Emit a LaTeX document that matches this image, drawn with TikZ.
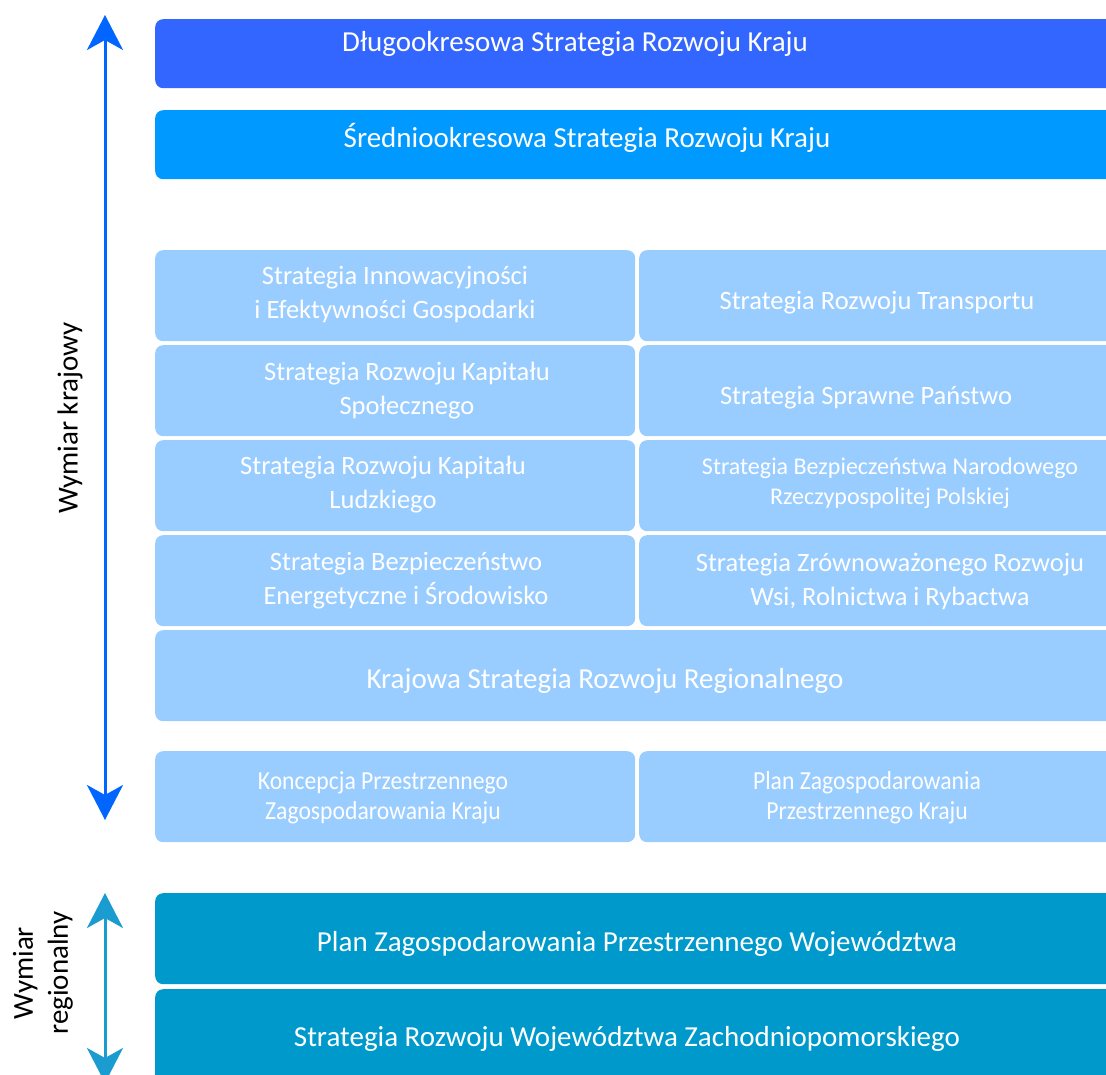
\documentclass[tikz,border=0pt]{standalone}
\usepackage{fontspec}
\setmainfont{Carlito}
\newfontfamily\narrowfont[FakeStretch=0.91]{Carlito}
\usepackage{xcolor}
\usetikzlibrary{arrows.meta, positioning}
\definecolor{darkblue}{HTML}{3366FF}
\definecolor{midblue}{HTML}{0099FF}
\definecolor{lightblue}{HTML}{99CCFF}
\definecolor{regblue}{HTML}{0099CC}
\definecolor{natarrowc}{HTML}{0066FF}
\definecolor{regarrowc}{HTML}{1A9CD0}
\tikzset{
    box/.style={rectangle, rounded corners=8pt, anchor=north west, inner sep=0pt, minimum height=91pt},
    darkbox/.style={box, fill=darkblue, minimum height=69pt, minimum width=1000pt},
    midbox/.style={box, fill=midblue, minimum height=69pt, minimum width=1000pt},
    lightbox/.style={box, fill=lightblue},
    regbox/.style={box, fill=regblue, minimum width=1000pt},
    boxtext/.style={text=white, align=center, font=\fontsize{29}{34}\selectfont},
    gridtext/.style={boxtext, font=\fontsize{26.5}{34}\selectfont},
    smalltext/.style={boxtext, font=\fontsize{24}{30}\selectfont},
    narrowtext/.style={boxtext, font=\narrowfont\fontsize{26}{30}\selectfont},
    sidelabel/.style={rotate=90, align=center, font=\fontsize{29}{35}\selectfont},
    bigarrow/.style={{Stealth[length=35pt, width=36pt, inset=10pt]}-{Stealth[length=35pt, width=36pt, inset=10pt]}, line width=3pt}
}

\begin{document}
\begin{tikzpicture}[x=1pt, y=-1pt]
    \useasboundingbox (0,0) rectangle (1106,1075);
    \clip (0,0) rectangle (1106,1075);

    % Strategie rozwoju kraju
    \node[darkbox] (dlugo) at (155,19) {};
    \node[midbox] (srednio) at (155,110) {};
    \node[boxtext] at (575,44) {Długookresowa Strategia Rozwoju Kraju};
    \node[boxtext] at (587,138) {Średniookresowa Strategia Rozwoju Kraju};

    % Strategie zintegrowane
    \node[lightbox, minimum width=480pt] (innow) at (155,250) {};
    \node[lightbox, minimum width=502pt] (transp) at (639,250) {};
    \node[lightbox, minimum width=480pt] (kapspol) at (155,345) {};
    \node[lightbox, minimum width=502pt] (sprawne) at (639,345) {};
    \node[lightbox, minimum width=480pt] (kapludz) at (155,440) {};
    \node[lightbox, minimum width=502pt] (bezpnar) at (639,440) {};
    \node[lightbox, minimum width=480pt] (energ) at (155,535) {};
    \node[lightbox, minimum width=502pt] (wsi) at (639,535) {};
    \node[lightbox, minimum width=1000pt] (regional) at (155,630) {};

    \node[gridtext] at (395,295) {Strategia Innowacyjności\\i Efektywności Gospodarki};
    \node[gridtext] at (877,303) {Strategia Rozwoju Transportu};
    \node[gridtext] at (407,391) {Strategia Rozwoju Kapitału\\Społecznego};
    \node[gridtext] at (866,398) {Strategia Sprawne Państwo};
    \node[gridtext] at (383,485) {Strategia Rozwoju Kapitału\\Ludzkiego};
    \node[smalltext] at (890,483) {Strategia Bezpieczeństwa Narodowego\\Rzeczypospolitej Polskiej};
    \node[gridtext] at (406,581) {Strategia Bezpieczeństwo\\Energetyczne i Środowisko};
    \node[gridtext] at (890,581) {Strategia Zrównoważonego Rozwoju\\Wsi, Rolnictwa i Rybactwa};
    \node[boxtext] at (605,681) {Krajowa Strategia Rozwoju Regionalnego};

    % Zagospodarowanie przestrzenne
    \node[lightbox, minimum width=480pt] (koncepcja) at (155,751) {};
    \node[lightbox, minimum width=502pt] (planzpk) at (639,751) {};
    \node[narrowtext] at (383,798) {Koncepcja Przestrzennego\\Zagospodarowania Kraju};
    \node[narrowtext] at (867,798) {Plan Zagospodarowania\\Przestrzennego Kraju};

    % Wymiar regionalny
    \node[regbox] (planzpw) at (155,893) {};
    \node[regbox, minimum height=110pt] (srw) at (155,989) {};
    \node[boxtext] at (637,944) {Plan Zagospodarowania Przestrzennego Województwa};
    \node[boxtext] at (627,1039) {Strategia Rozwoju Województwa Zachodniopomorskiego};

    % Strzalki
    \coordinate (ntop) at (105,15);
    \coordinate (nbot) at (105,820);
    \coordinate (rtop) at (105,893);
    \coordinate (rbot) at (105,1083);
    \draw[bigarrow, natarrowc] (ntop) -- (nbot);
    \draw[bigarrow, regarrowc] (rtop) -- (rbot);
    \node[sidelabel] (kraj) at (70,418) {Wymiar krajowy};
    \node[sidelabel] (region) at (43,973) {Wymiar\\regionalny};
\end{tikzpicture}
\end{document}
